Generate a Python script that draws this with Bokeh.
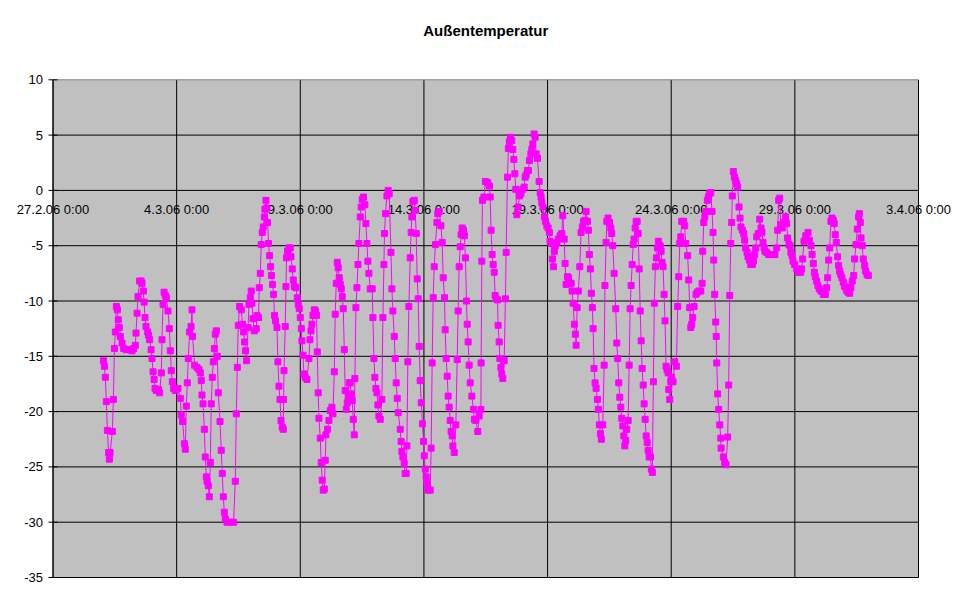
from bokeh.plotting import figure
from bokeh.models import Range1d, Label, ColumnDataSource
from bokeh.core.properties import value
from bokeh.embed import file_html
from bokeh.resources import INLINE

# ---- data (hours since 27.2.06 0:00, temperature in degC) ----
hours = [
48.9, 49.9, 50.8, 51.8, 52.8, 54.0, 54.7, 55.4, 57.6, 58.6,
59.6, 60.5, 61.5, 62.5, 63.4, 64.4, 65.4, 67.0, 68.6, 71.2,
74.1, 76.7, 78.3, 79.9, 80.6, 81.6, 82.5, 84.1, 85.5, 86.4,
87.7, 88.4, 89.3, 90.3, 91.9, 92.8, 93.8, 95.2, 96.1, 97.1,
98.1, 99.0, 100.3, 102.5, 103.5, 105.1, 105.8, 106.8, 107.8, 109.0,
110.0, 111.6, 112.9, 113.9, 114.8, 115.8, 117.1, 118.7, 121.3, 123.6,
124.5, 125.8, 127.5, 128.4, 129.4, 130.4, 131.3, 132.6, 134.0, 134.9,
135.5, 137.4, 139.8, 141.7, 143.0, 143.9, 144.6, 145.6, 146.9, 147.8,
148.8, 149.5, 150.7, 151.7, 152.7, 153.6, 154.6, 155.6, 156.6, 157.5,
158.5, 159.5, 160.4, 162.1, 163.3, 164.3, 165.3, 166.3, 167.2, 168.9,
172.1, 175.3, 176.9, 177.9, 178.9, 179.8, 181.1, 182.7, 184.0, 185.0,
186.0, 186.9, 187.9, 189.3, 190.2, 191.5, 192.4, 193.1, 194.1, 195.4,
197.3, 198.0, 199.5, 200.2, 201.2, 202.1, 203.1, 204.1, 205.1, 205.7,
206.7, 207.5, 208.3, 209.2, 210.2, 211.2, 212.1, 213.1, 214.1, 215.0,
216.0, 217.4, 218.3, 219.3, 220.3, 221.3, 222.5, 223.5, 223.8, 224.2,
225.4, 226.1, 226.7, 227.7, 229.0, 230.3, 231.0, 232.2, 233.2, 234.4,
235.8, 237.1, 238.0, 239.0, 240.0, 241.0, 241.6, 242.6, 243.6, 244.8,
246.5, 248.4, 249.4, 250.4, 251.3, 252.3, 253.6, 254.8, 255.8, 256.5,
257.4, 258.1, 259.4, 260.3, 261.3, 262.3, 263.3, 264.2, 264.9, 266.5,
267.8, 269.1, 270.7, 271.7, 273.0, 273.9, 274.9, 275.9, 276.8, 277.8,
278.8, 279.8, 280.7, 281.7, 282.7, 283.6, 284.6, 285.6, 286.5, 287.5,
288.5, 289.4, 290.4, 291.4, 292.4, 293.0, 294.0, 295.0, 296.0, 296.9,
298.2, 299.1, 300.1, 301.4, 302.7, 303.7, 304.7, 305.6, 306.6, 307.9,
309.8, 310.5, 311.5, 312.4, 313.4, 314.4, 315.3, 316.3, 317.6, 319.2,
320.2, 321.2, 321.7, 322.7, 324.1, 325.3, 326.3, 328.0, 328.9, 329.9,
331.2, 332.1, 333.1, 334.1, 335.0, 337.0, 337.9, 338.6, 339.6, 340.9,
341.8, 342.8, 343.5, 344.4, 345.4, 346.7, 347.6, 348.3, 349.3, 350.6,
351.5, 352.5, 353.5, 354.4, 355.4, 356.4, 357.4, 358.6, 359.6, 360.3,
361.3, 362.2, 362.9, 363.7, 364.4, 366.1, 367.0, 368.0, 369.0, 370.0,
371.2, 372.6, 373.5, 374.8, 376.5, 377.7, 378.7, 380.0, 380.6, 381.6,
382.6, 383.5, 384.5, 385.5, 386.4, 387.4, 388.1, 389.4, 391.0, 392.3,
393.2, 394.2, 395.2, 396.1, 397.1, 398.4, 399.3, 400.3, 401.3, 402.0,
402.9, 403.9, 404.9, 406.5, 408.1, 409.0, 410.4, 412.3, 413.6, 415.3,
415.5, 416.2, 416.8, 418.2, 419.7, 422.0, 423.6, 424.3, 425.2, 426.2,
427.2, 428.2, 429.1, 430.1, 431.4, 432.0, 433.0, 433.7, 434.7, 435.6,
436.6, 437.9, 439.1, 439.8, 441.1, 442.0, 443.0, 444.0, 445.3, 446.3,
447.3, 448.2, 449.2, 450.2, 451.4, 452.7, 454.1, 456.0, 457.3, 458.2,
459.2, 460.5, 461.4, 462.4, 463.8, 464.7, 465.7, 466.9, 467.9, 468.9,
470.2, 471.8, 472.8, 473.7, 474.4, 475.4, 476.9, 477.9, 479.3, 480.5,
481.8, 482.4, 483.4, 484.7, 485.7, 486.6, 487.6, 489.0, 490.5, 492.2,
493.8, 494.8, 496.1, 497.0, 498.0, 499.3, 500.3, 501.2, 502.9, 503.8,
504.8, 506.0, 507.0, 507.7, 508.7, 509.9, 511.3, 512.5, 513.8, 514.8,
516.4, 517.4, 518.7, 519.6, 520.6, 521.6, 522.5, 523.5, 524.2, 525.1,
526.1, 527.1, 528.4, 529.3, 530.3, 531.3, 532.2, 533.6, 534.9, 535.7,
536.8, 537.5, 538.7, 540.0, 541.4, 542.3, 543.3, 544.6, 546.2, 547.2,
548.1, 549.1, 550.1, 551.1, 552.0, 553.0, 554.0, 555.0, 555.9, 556.9,
558.2, 559.2, 560.1, 561.1, 562.1, 563.1, 564.0, 565.0, 566.0, 566.9,
567.9, 568.9, 569.9, 570.8, 571.8, 572.8, 573.7, 574.7, 575.7, 576.7,
577.6, 578.6, 579.9, 580.7, 581.7, 582.7, 583.6, 584.6, 585.6, 586.6,
587.5, 589.2, 590.2, 591.1, 592.1, 593.1, 594.0, 595.0, 596.0, 597.0,
597.6, 598.6, 599.6, 600.5, 601.8, 603.4, 605.0, 606.3, 607.3, 608.3,
609.3, 610.2, 611.8, 613.1, 614.1, 616.0, 617.0, 618.0, 619.0, 619.9,
620.9, 622.2, 624.1, 625.4, 627.0, 628.7, 630.0, 630.6, 631.6, 632.6,
633.6, 635.1, 636.1, 637.0, 638.4, 639.6, 640.6, 641.3, 642.2, 643.2,
643.7, 644.2, 645.1, 646.1, 647.1, 648.1, 648.4, 650.6, 651.9, 653.2,
654.8, 655.8, 656.8, 657.8, 658.7, 659.3, 660.3, 661.3, 662.6, 663.6,
664.5, 665.8, 666.8, 667.7, 669.0, 670.4, 671.3, 672.3, 673.6, 674.5,
675.8, 677.2, 678.7, 679.7, 681.0, 682.0, 683.0, 684.5, 685.9, 687.2,
688.1, 689.1, 690.1, 691.0, 692.7, 694.6, 696.6, 698.5, 700.7, 702.4,
703.3, 704.3, 705.3, 706.2, 706.8, 707.8, 709.7, 711.1, 712.1, 713.0,
714.3, 715.3, 716.2, 717.2, 718.2, 719.8, 721.8, 723.3, 725.7, 726.6,
727.6, 728.9, 730.6, 732.8, 734.1, 735.7, 736.7, 737.9, 738.9, 739.8,
741.2, 742.4, 743.7, 745.4, 747.6, 749.5, 750.9, 751.8, 752.8, 753.8,
755.0, 756.0, 757.3, 758.2, 759.2, 760.2, 761.5, 762.5, 763.5, 764.5,
765.7, 767.0, 768.3, 769.9, 771.5, 773.2, 774.4, 775.7, 777.1, 778.0,
779.3, 780.6, 781.9, 782.6, 783.5, 784.2, 785.4, 786.4, 787.8, 788.7,
790.0, 791.3]

temperature = [
-15.4, -15.9, -16.9, -19.1, -21.7, -23.7, -24.3, -23.7, -21.8, -18.9,
-14.3, -12.8, -10.5, -10.8, -11.7, -12.4, -13.2, -13.8, -14.3, -14.4,
-14.4, -14.5, -14.3, -14.0, -12.9, -11.1, -9.6, -8.2, -8.2, -8.4,
-9.1, -10.1, -11.5, -12.3, -12.8, -13.1, -13.5, -14.4, -15.2, -16.4,
-17.1, -17.9, -18.1, -18.0, -18.3, -16.5, -13.5, -10.3, -9.2, -9.5,
-9.7, -10.9, -12.5, -14.5, -16.3, -17.3, -17.9, -18.1, -17.9, -18.8,
-20.3, -20.9, -22.9, -23.4, -19.5, -17.4, -15.2, -12.8, -12.3, -10.8,
-13.2, -15.8, -16.0, -16.2, -16.5, -17.2, -18.5, -19.3, -21.6, -24.1,
-25.9, -26.3, -26.7, -27.7, -24.6, -19.3, -16.9, -15.5, -14.3, -13.0,
-12.7, -15.0, -18.3, -20.9, -23.5, -25.6, -27.7, -29.1, -29.7, -30.0,
-30.0, -30.0, -26.3, -20.2, -16.0, -12.2, -10.5, -10.8, -12.1, -12.8,
-13.7, -14.5, -15.4, -12.4, -10.3, -9.7, -9.1, -10.2, -11.6, -12.7,
-12.5, -11.3, -11.5, -8.8, -7.5, -4.9, -3.8, -3.3, -2.4, -1.7,
-0.9, -1.6, -2.9, -4.8, -5.9, -6.9, -7.7, -8.5, -9.4, -11.3,
-11.8, -12.4, -15.5, -17.7, -18.9, -20.8, -21.4, -21.6, -18.9, -16.3,
-12.3, -8.7, -6.1, -5.5, -5.2, -5.2, -6.0, -7.1, -8.1, -8.7,
-8.8, -9.7, -10.3, -10.7, -11.5, -12.5, -13.6, -14.9, -16.6, -16.9,
-17.1, -15.2, -13.5, -12.7, -12.1, -11.3, -10.8, -10.9, -11.3, -14.6,
-18.3, -20.6, -22.4, -24.6, -26.2, -27.1, -27.0, -24.4, -22.1, -21.6,
-20.8, -19.9, -19.6, -20.2, -16.4, -11.2, -8.4, -6.5, -7.0, -7.9,
-8.5, -8.9, -9.6, -10.7, -14.4, -18.1, -19.8, -19.2, -18.6, -17.4,
-17.4, -18.4, -19.0, -20.7, -22.1, -17.0, -10.6, -8.8, -6.7, -4.8,
-2.4, -1.5, -0.8, -0.6, -1.3, -3.0, -4.8, -6.4, -7.5, -8.9,
-8.9, -11.5, -15.2, -16.9, -17.9, -18.3, -19.4, -20.4, -20.7, -18.9,
-11.5, -6.7, -3.9, -2.1, -0.5, 0.0, -0.3, -5.6, -8.9, -10.9,
-13.2, -15.2, -17.4, -18.8, -20.1, -21.6, -22.7, -23.6, -24.1, -24.7,
-25.6, -25.6, -23.1, -15.5, -10.5, -6.1, -3.8, -2.4, -1.0, -0.9,
-1.8, -3.9, -8.0, -9.8, -14.1, -17.2, -19.2, -21.1, -22.7, -24.0,
-25.2, -25.9, -26.4, -26.9, -27.1, -27.1, -23.3, -15.6, -9.7, -6.9,
-4.9, -2.9, -2.1, -1.9, -3.2, -4.7, -7.9, -9.7, -12.6, -15.2,
-16.8, -18.6, -19.6, -20.8, -21.8, -22.2, -23.1, -23.7, -21.2, -15.3,
-10.9, -6.9, -5.1, -4.0, -3.4, -3.6, -4.1, -6.1, -10.0, -12.1,
-13.7, -15.8, -17.4, -18.6, -19.8, -20.7, -20.8, -21.8, -20.4, -19.8,
-15.6, -6.4, -0.9, -0.6, 0.8, 0.7, 0.4, -0.6, -3.6, -5.8,
-6.7, -7.4, -9.5, -9.8, -9.9, -12.2, -13.7, -15.2, -16.0, -16.6,
-17.0, -15.4, -9.8, -5.6, 1.2, 3.8, 4.4, 4.8, 4.5, 3.7,
2.8, 1.5, 0.1, -2.2, -1.5, -0.5, -0.3, 0.1, 0.3, 1.2,
1.4, 1.8, 1.8, 2.7, 3.3, 3.7, 4.2, 5.1, 4.8, 3.3,
2.9, 0.8, -0.2, -0.6, -1.1, -1.5, -2.4, -2.8, -3.2, -3.4,
-3.8, -4.6, -4.8, -6.2, -6.9, -5.5, -5.0, -4.7, -4.4, -4.1,
-3.9, -2.3, -4.4, -6.6, -8.5, -7.8, -7.9, -8.4, -8.4, -9.1,
-10.2, -12.1, -13.0, -14.0, -10.6, -9.1, -6.9, -3.8, -3.3, -2.8,
-2.7, -1.9, -2.8, -3.6, -5.8, -7.1, -9.3, -10.6, -12.5, -16.1,
-17.4, -17.9, -18.9, -19.8, -21.2, -22.0, -22.5, -21.2, -15.8, -8.6,
-4.7, -2.8, -2.5, -2.9, -3.4, -3.9, -5.0, -7.5, -10.7, -13.8,
-15.2, -17.4, -18.7, -19.6, -20.6, -21.3, -22.2, -23.1, -22.6, -21.6,
-20.8, -15.8, -10.7, -8.6, -6.7, -4.9, -4.4, -3.4, -2.8, -2.8,
-3.9, -7.1, -10.9, -13.6, -16.1, -17.6, -19.3, -20.7, -22.2, -22.8,
-23.5, -24.1, -24.1, -25.2, -25.5, -17.3, -10.2, -6.9, -6.1, -5.2,
-4.6, -5.0, -5.5, -6.5, -6.9, -9.4, -11.8, -15.9, -16.2, -16.5,
-18.0, -18.9, -17.3, -16.9, -17.3, -15.5, -15.9, -10.5, -7.8, -4.8,
-4.2, -2.8, -2.8, -3.2, -4.8, -5.9, -8.1, -10.6, -12.4, -12.1,
-11.5, -10.5, -9.4, -9.2, -9.1, -9.1, -8.4, -5.5, -2.9, -2.4,
-1.9, -0.9, -0.6, -0.3, -0.2, -1.9, -3.8, -6.3, -9.4, -11.9,
-13.2, -15.6, -18.4, -19.8, -21.2, -22.4, -23.3, -24.1, -24.6, -24.8,
-22.3, -17.6, -9.5, -4.8, -2.9, -0.5, 1.7, 1.2, 0.9, 0.6,
0.3, -1.5, -2.5, -3.3, -3.6, -3.9, -4.5, -5.2, -5.6, -6.0,
-6.3, -6.7, -6.7, -6.4, -5.8, -5.2, -4.2, -3.9, -2.6, -3.4,
-3.8, -4.7, -5.2, -5.5, -5.6, -5.8, -5.8, -5.8, -5.8, -5.2,
-3.6, -0.9, -0.7, -3.1, -3.3, -3.4, -2.9, -2.4, -3.0, -4.3,
-4.9, -5.0, -5.6, -5.9, -6.4, -6.7, -7.1, -7.4, -7.4, -7.1,
-6.2, -4.6, -4.1, -3.8, -4.5, -5.0, -5.8, -6.6, -7.4, -7.8,
-8.2, -8.6, -8.9, -9.1, -9.4, -9.4, -8.8, -7.9, -6.3, -5.2,
-2.8, -2.5, -2.7, -3.0, -4.0, -4.7, -6.0, -6.8, -7.3, -7.6,
-7.9, -8.3, -8.7, -9.0, -9.2, -9.3, -8.8, -8.2, -7.7, -6.2,
-4.9, -3.5, -2.4, -2.1, -2.9, -4.3, -5.0, -6.2, -6.8, -7.3,
-7.6, -7.7]

assert len(hours) == len(temperature), (len(hours), len(temperature))

x_tick_hours = [0, 120, 240, 360, 480, 600, 720, 840]
x_tick_labels = ["27.2.06 0:00", "4.3.06 0:00", "9.3.06 0:00", "14.3.06 0:00",
                 "19.3.06 0:00", "24.3.06 0:00", "29.3.06 0:00", "3.4.06 0:00"]
y_ticks = [-35, -30, -25, -20, -15, -10, -5, 0, 5, 10]
y_tick_labels = [str(v) for v in y_ticks]
title_text = "Außentemperatur"

FONT = "Liberation Sans"
MAGENTA = "#FF00FF"

# ---- layout: canvas 970x603, plot area from px 52.5..918 (x) and 79.3..577 (y) ----
W, H = 970, 603
PX_L, PX_R, PX_T, PX_B = 52.5, 918.0, 79.3, 577.0
x0, x1 = x_tick_hours[0], x_tick_hours[-1]
y0, y1 = y_ticks[0], y_ticks[-1]
kx = (x1 - x0) / (PX_R - PX_L)
ky = (y1 - y0) / (PX_B - PX_T)

p = figure(width=W, height=H,
           x_range=Range1d(x0 - PX_L * kx, x1 + (W - PX_R) * kx),
           y_range=Range1d(y0 - (H - PX_B) * ky, y1 + PX_T * ky),
           output_backend="svg", toolbar_location=None,
           x_axis_location=None, y_axis_location=None,
           min_border=0, title=None)
p.grid.visible = False
p.outline_line_color = None
p.background_fill_color = "white"
p.border_fill_color = "white"

# plot area
p.quad(left=[x0], right=[x1], bottom=[y0], top=[y1],
       fill_color="#C0C0C0", line_color=None)

# gridlines
p.segment(x0=x_tick_hours, x1=x_tick_hours, y0=[y0] * len(x_tick_hours), y1=[y1] * len(x_tick_hours),
          line_color="black", line_width=1)
p.segment(x0=[x0] * (len(y_ticks) - 1), x1=[x1] * (len(y_ticks) - 1), y0=y_ticks[:-1], y1=y_ticks[:-1],
          line_color="black", line_width=1)
p.segment(x0=[x0], x1=[x1], y0=[y1], y1=[y1], line_color="#808080", line_width=1)

# category-axis labels along the zero line
p.text(x=x_tick_hours, y=[0] * len(x_tick_hours), text=x_tick_labels,
       text_align="center", text_baseline="middle", y_offset=19,
       text_font=value(FONT), text_font_size="13px", text_color="black")

# series
src = ColumnDataSource(data=dict(h=hours, t=temperature))
p.line("h", "t", source=src, line_color=MAGENTA, line_width=1)
p.scatter("h", "t", source=src, marker="square", size=6,
          fill_color=MAGENTA, line_color=MAGENTA)

# value axis
p.segment(x0=[x0], x1=[x0], y0=[y0], y1=[y1], line_color="black", line_width=1)
p.scatter(x=[x0] * len(y_ticks), y=y_ticks, marker="dash", size=9,
          line_color="black", line_width=1)
p.text(x=[x0] * len(y_ticks), y=y_ticks, text=y_tick_labels,
       text_align="right", text_baseline="middle", x_offset=-10,
       text_font=value(FONT), text_font_size="13px", text_color="black")

# title
p.add_layout(Label(x=(x0 + x1) / 2, y=y1, y_offset=49, text=title_text,
                   text_align="center", text_baseline="middle",
                   text_font=FONT, text_font_size="15px", text_font_style="bold",
                   text_color="black"))

open("out.html", "w").write(file_html(p, INLINE))
